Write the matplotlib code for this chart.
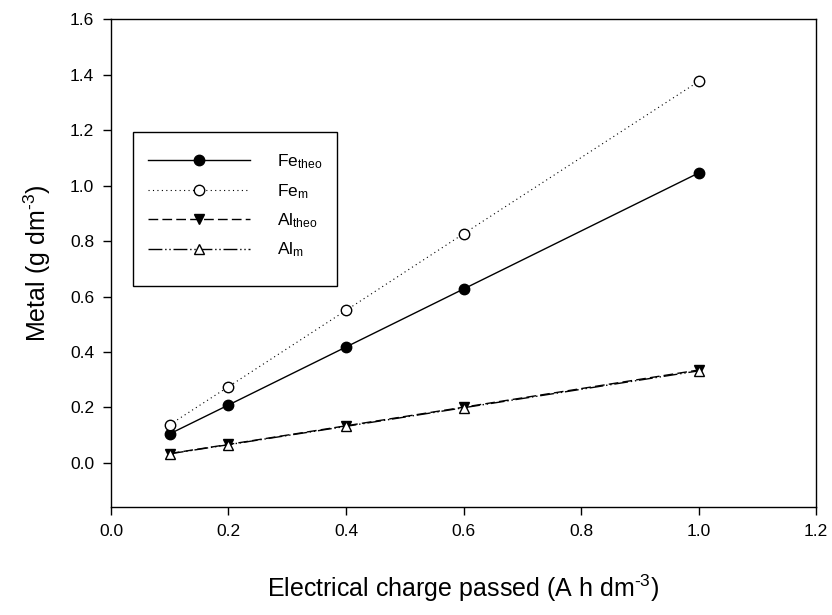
import matplotlib
matplotlib.use("Agg")
import matplotlib.pyplot as plt
from matplotlib.patches import Rectangle

plt.rcParams['font.family'] = ['Liberation Sans', 'DejaVu Sans']
plt.rcParams['mathtext.fontset'] = 'custom'
plt.rcParams['mathtext.rm'] = 'Liberation Sans'
plt.rcParams['mathtext.it'] = 'Liberation Sans:italic'
plt.rcParams['mathtext.default'] = 'regular'

charge = [0.1, 0.2, 0.4, 0.6, 1.0]
fe_theo = [0.105, 0.209, 0.418, 0.627, 1.045]
fe_m = [0.138, 0.275, 0.550, 0.826, 1.375]
al_theo = [0.034, 0.067, 0.134, 0.201, 0.335]
al_m = [0.033, 0.066, 0.132, 0.199, 0.332]

x_ticks = [0.0, 0.2, 0.4, 0.6, 0.8, 1.0, 1.2]
y_ticks = [0.0, 0.2, 0.4, 0.6, 0.8, 1.0, 1.2, 1.4, 1.6]

fig = plt.figure(figsize=(8.32, 6.15), dpi=100)
ax = fig.add_axes([0.1334, 0.175, 0.8474, 0.794])

ms = 7.5
ax.plot(charge, fe_theo, color='black', linestyle='-', lw=1.0, marker='o',
        markersize=ms, markerfacecolor='black', markeredgecolor='black', label=r'Fe$_{theo}$')
ax.plot(charge, fe_m, color='black', linestyle=(0, (1, 3)), lw=0.8, marker='o',
        markersize=ms, markerfacecolor='white', markeredgecolor='black', label=r'Fe$_{m}$')
ax.plot(charge, al_theo, color='black', linestyle=(0, (7, 3)), lw=1.0, marker='v',
        markersize=ms, markerfacecolor='black', markeredgecolor='black', label=r'Al$_{theo}$')
ax.plot(charge, al_m, color='black', linestyle=(0, (10, 2, 1, 2, 1, 2)), lw=1.0, marker='^',
        markersize=ms, markerfacecolor='white', markeredgecolor='black', label=r'Al$_{m}$')

ax.set_xlim(0.0, 1.2)
ax.set_ylim(-0.16, 1.6)
ax.set_xticks(x_ticks)
ax.set_xticklabels([f'{v:.1f}' for v in x_ticks])
ax.set_yticks(y_ticks)
ax.set_yticklabels([f'{v:.1f}' for v in y_ticks])
ax.tick_params(direction='out', length=6, width=1, labelsize=12.5, pad=6)
for s in ax.spines.values():
    s.set_linewidth(1.0)

ax.set_xlabel(r'Electrical charge passed (A h dm$^{\text{-}3}$)', fontsize=18, labelpad=24)
ax.set_ylabel(r'Metal (g dm$^{\text{-}3}$)', fontsize=18, labelpad=12)

leg = ax.legend(loc='upper left', bbox_to_anchor=(0.0525, 0.727), borderaxespad=0,
                fontsize=12.5, frameon=False, handlelength=5.9, labelspacing=0.62,
                handletextpad=1.55, borderpad=0)
ax.add_patch(Rectangle((0.0312, 0.4533), 0.2894, 0.3154, transform=ax.transAxes,
                       fill=False, edgecolor='black', lw=1.0, zorder=5))

fig.savefig('out.png', dpi=100)
